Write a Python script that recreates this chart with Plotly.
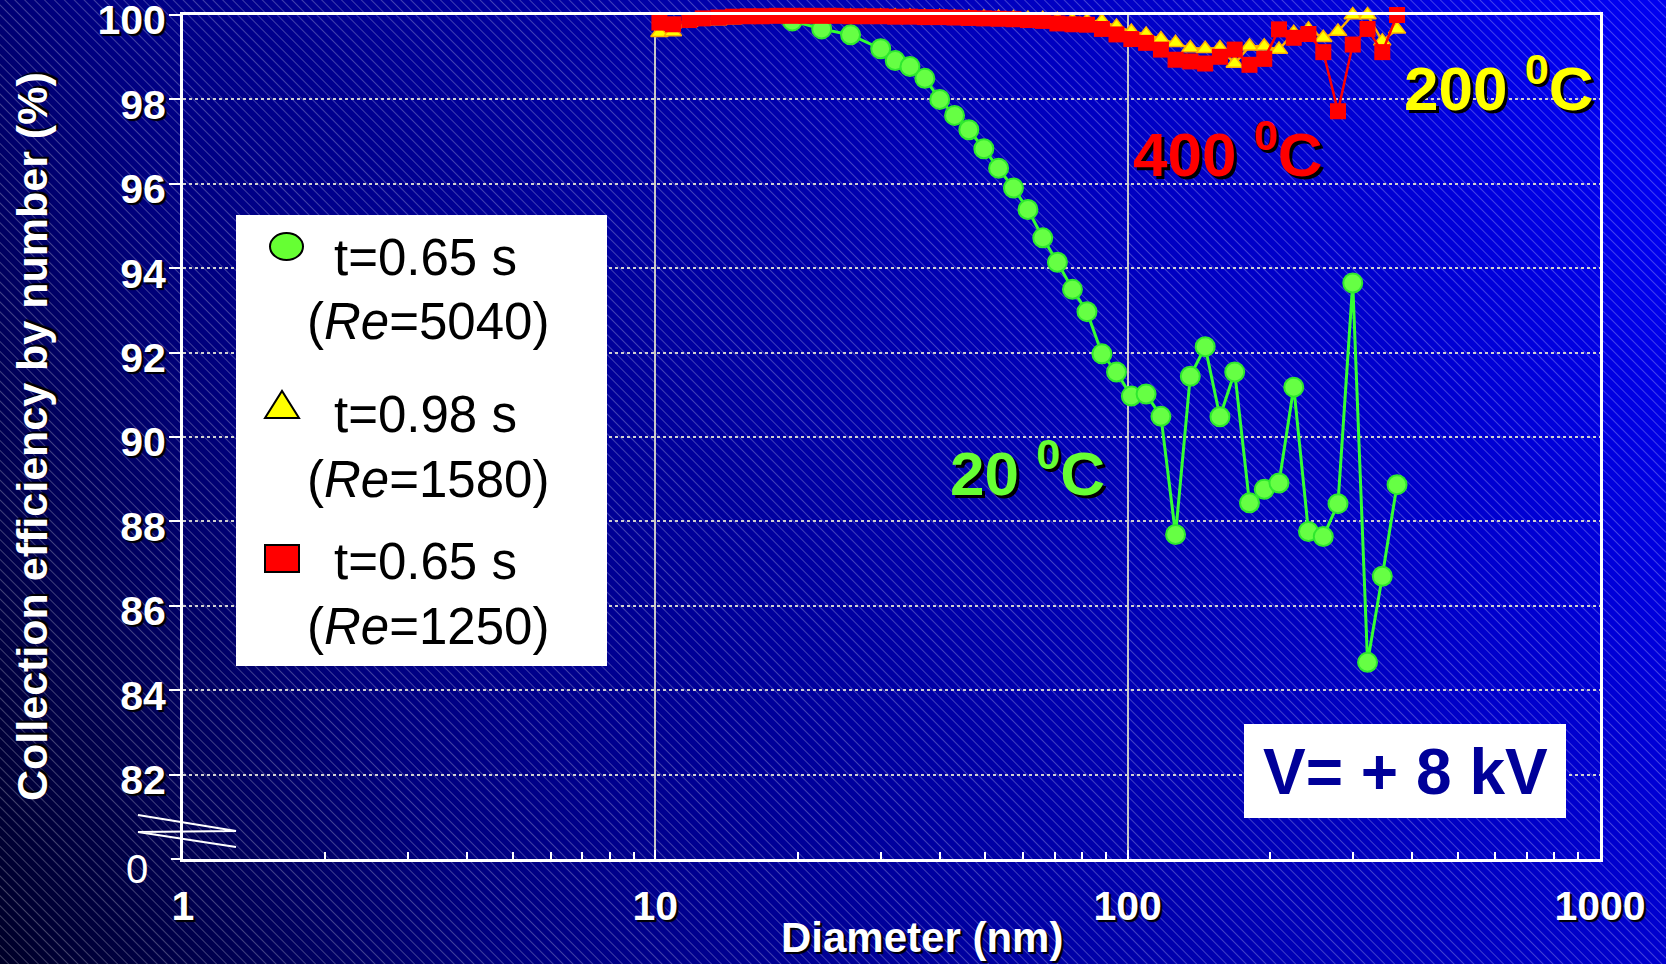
import base64
import plotly.graph_objects as go

# ---- data -------------------------------------------------------------
# SMPS channel midpoints (nm)
diam = [10.2, 10.9, 11.8, 12.6, 13.6, 14.6, 15.7, 16.8, 18.1, 19.5, 20.9, 22.5,
        24.1, 25.9, 27.9, 30.0, 32.2, 34.6, 37.2, 40.0, 43.0, 46.1, 49.6, 53.3,
        57.3, 61.5, 66.1, 71.0, 76.4, 82.0, 88.2, 94.7, 101.8, 109.4, 117.6,
        126.3, 135.7, 145.9, 156.8, 168.5, 181.1, 194.6, 209.1, 224.7, 241.4,
        259.5, 278.8, 299.6, 322.0, 346.0, 371.8]

# 400 C, t=0.65 s (Re=1250)
eff_400 = [99.82, 99.78, 99.88, 99.92, 99.94, 99.96, 99.97, 99.97, 99.98, 99.98,
           99.98, 99.98, 99.98, 99.97, 99.97, 99.97, 99.96, 99.96, 99.95, 99.95,
           99.94, 99.93, 99.92, 99.91, 99.90, 99.88, 99.86, 99.80, 99.78,
           99.77, 99.67, 99.54, 99.43, 99.34, 99.18, 98.94, 98.90, 98.85, 99.01,
           99.18, 98.82, 98.96, 99.66, 99.46, 99.55, 99.12, 97.72, 99.30, 99.67,
           99.12, 100.0]

# 200 C, t=0.98 s (Re=1580)
eff_200 = [99.58, 99.60, 99.82, 99.85, 99.86, 99.88, 99.90, 99.92, 99.93, 99.94,
           99.95, 99.96, 99.97, 99.97, 99.97, 99.97, 99.97, 99.97, 99.96, 99.96,
           99.95, 99.95, 99.94, 99.94, 99.93, 99.92, 99.91, 99.89, 99.87,
           99.86, 99.85, 99.73, 99.61, 99.54, 99.43, 99.34, 99.22, 99.20, 99.22,
           98.85, 99.26, 99.26, 99.18, 99.58, 99.66, 99.46, 99.61, 100.0, 100.0,
           99.38, 99.66]

# 20 C, t=0.65 s (Re=5040)
diam_20 = [19.5, 22.5, 25.9, 30.0, 32.2, 34.6, 37.2, 40.0, 43.0, 46.1, 49.6,
           53.3, 57.3, 61.5, 66.1, 71.0, 76.4, 82.0, 88.2, 94.7, 101.8, 109.4,
           117.6, 126.3, 135.7, 145.9, 156.8, 168.5, 181.1, 194.6, 209.1, 224.7,
           241.4, 259.5, 278.8, 299.6, 322.0, 346.0, 371.8]
eff_20 = [99.86, 99.67, 99.53, 99.20, 98.92, 98.78, 98.50, 98.00, 97.62, 97.28,
          96.83, 96.37, 95.90, 95.39, 94.72, 94.14, 93.50, 92.97, 91.97, 91.54,
          90.97, 91.02, 90.49, 87.69, 91.44, 92.14, 90.48, 91.54, 88.44, 88.76,
          88.91, 91.18, 87.76, 87.64, 88.42, 93.65, 84.66, 86.70, 88.87]

x_tickvals = [1, 10, 100, 1000]
x_ticktext = ["1", "10", "100", "1000"]
x_minor = [2, 3, 4, 5, 6, 7, 8, 9, 20, 30, 40, 50, 60, 70, 80, 90,
           200, 300, 400, 500, 600, 700, 800, 900]
y_tickvals = [82, 84, 86, 88, 90, 92, 94, 96, 98, 100]
y_ticktext = ["82", "84", "86", "88", "90", "92", "94", "96", "98", "100"]

legend_lines = [("t=0.65 s", "(<i>Re</i>=5040)"),
                ("t=0.98 s", "(<i>Re</i>=1580)"),
                ("t=0.65 s", "(<i>Re</i>=1250)")]

# ---- geometry helpers (page pixels -> paper units) ---------------------
W, H = 1666, 964
ML, MR, MT, MB = 183, 66, 15, 105
PW = W - ML - MR
PH = H - MT - MB


def px(x):
    return (x - ML) / PW


def py(y):
    return (H - MB - y) / PH


FONT = "Liberation Sans, Arial, sans-serif"
SHADOW = "2px 2px 1px #000000"

# ---- background: diagonal blue gradient with fine hatching -------------
bg_svg = f"""<svg xmlns='http://www.w3.org/2000/svg' width='{W}' height='{H}' viewBox='0 0 {W} {H}'>
<defs>
<linearGradient id='g' gradientUnits='userSpaceOnUse' x1='0' y1='{H}' x2='{W}' y2='222'>
<stop offset='0' stop-color='#000028'/>
<stop offset='0.25' stop-color='#000080'/>
<stop offset='0.85' stop-color='#0000d0'/>
<stop offset='1' stop-color='#0000f0'/>
</linearGradient>
<pattern id='h' width='7' height='7' patternUnits='userSpaceOnUse' patternTransform='rotate(-45)'>
<line x1='3.5' y1='0' x2='3.5' y2='7' stroke='#ffffff' stroke-opacity='0.25' stroke-width='1'/>
</pattern>
</defs>
<rect width='{W}' height='{H}' fill='url(#g)'/>
<rect width='{W}' height='{H}' fill='url(#h)'/>
</svg>"""
bg_src = "data:image/svg+xml;base64," + base64.b64encode(bg_svg.encode()).decode()

# ---- traces ------------------------------------------------------------
fig = go.Figure()
fig.add_trace(go.Scatter(
    x=diam_20, y=eff_20, mode="lines+markers", name="20 C",
    line=dict(color="#33ff33", width=3),
    marker=dict(symbol="circle", size=19, color="#66ff44",
                line=dict(color="#2ee82e", width=2)),
    cliponaxis=False, showlegend=False))
fig.add_trace(go.Scatter(
    x=diam, y=eff_200, mode="lines+markers", name="200 C",
    line=dict(color="#ffb000", width=2.5),
    marker=dict(symbol="triangle-up", size=15, color="#ffff00",
                line=dict(color="#ffb000", width=1.5)),
    cliponaxis=False, showlegend=False))
fig.add_trace(go.Scatter(
    x=diam, y=eff_400, mode="lines+markers", name="400 C",
    line=dict(color="#ff0000", width=2.5),
    marker=dict(symbol="square", size=16, color="#ff0000", line=dict(width=0)),
    cliponaxis=False, showlegend=False))

# ---- shapes ------------------------------------------------------------
shapes = []
# legend panel
shapes.append(dict(type="rect", xref="paper", yref="paper", layer="above",
                   x0=px(236), x1=px(607), y0=py(666), y1=py(215),
                   fillcolor="white", line=dict(width=0)))
# legend symbols
shapes.append(dict(type="circle", xref="paper", yref="paper", layer="above",
                   x0=px(270), x1=px(303), y0=py(260), y1=py(233),
                   fillcolor="#66ff33", line=dict(color="black", width=2)))
tri = f"M {px(265)},{py(418)} L {px(299)},{py(418)} L {px(282)},{py(391)} Z"
shapes.append(dict(type="path", path=tri, xref="paper", yref="paper", layer="above",
                   fillcolor="#ffff00", line=dict(color="black", width=2)))
shapes.append(dict(type="rect", xref="paper", yref="paper", layer="above",
                   x0=px(265), x1=px(299), y0=py(572), y1=py(545),
                   fillcolor="#ff0000", line=dict(color="black", width=2)))
# voltage box
shapes.append(dict(type="rect", xref="paper", yref="paper", layer="above",
                   x0=px(1244), x1=px(1566), y0=py(818), y1=py(724),
                   fillcolor="white", line=dict(width=0)))
# axis-break mark
brk = (f"M {px(138)},{py(815)} L {px(236)},{py(831)} "
       f"L {px(138)},{py(832)} L {px(236)},{py(847)}")
shapes.append(dict(type="path", path=brk, xref="paper", yref="paper", layer="above",
                   line=dict(color="white", width=2)))
# tick at the broken origin
shapes.append(dict(type="line", xref="paper", yref="paper", layer="above",
                   x0=px(171), x1=px(183), y0=0, y1=0,
                   line=dict(color="white", width=2)))

# ---- annotations -------------------------------------------------------
ann = []


def text(x, y, s, size, color, bold=True, shadow=SHADOW, angle=0):
    ann.append(dict(x=px(x), y=py(y), xref="paper", yref="paper", text=s,
                    showarrow=False, xanchor="center", yanchor="middle",
                    textangle=angle,
                    font=dict(family=FONT, size=size, color=color,
                              weight="bold" if bold else "normal",
                              shadow=shadow)))


# legend text
for (l1, l2), yc in zip(legend_lines, [(257, 322), (414, 480), (561, 626)]):
    text(425, yc[0], l1, 51, "black", bold=False, shadow="none")
    text(428, yc[1], l2, 51, "black", bold=False, shadow="none")

# series labels
text(1228, 150, "400 <sup>0</sup>C", 62, "#ff0000", shadow="3px 3px 0px #000000")
text(1499, 84, "200 <sup>0</sup>C", 62, "#ffff00", shadow="3px 3px 0px #000000")
text(1027, 469, "20 <sup>0</sup>C", 62, "#66ff33", shadow="3px 3px 0px #000000")

# voltage label
text(1405, 772, "V= + 8 kV", 64, "#000099", shadow="none")

# axis titles
text(32, 437, "Collection efficiency by number (%)", 43, "white", angle=-90)
text(922, 937, "Diameter (nm)", 42, "white")

# zero label at the broken axis origin
text(137, 869, "0", 40, "white", bold=False, shadow="none")

# ---- layout ------------------------------------------------------------
tickfont = dict(family=FONT, size=41, color="white", weight="bold", shadow=SHADOW)

fig.update_layout(
    width=W, height=H,
    margin=dict(l=ML, r=MR, t=MT, b=MB, pad=0, autoexpand=False),
    paper_bgcolor="#000080",
    plot_bgcolor="rgba(0,0,0,0)",
    showlegend=False,
    images=[dict(source=bg_src, xref="paper", yref="paper",
                 x=px(0), y=py(0), sizex=W / PW, sizey=H / PH,
                 xanchor="left", yanchor="top", sizing="stretch", layer="below")],
    shapes=shapes,
    annotations=ann,
    xaxis=dict(type="log", range=[0, 3], automargin=False,
               showline=True, linecolor="white", linewidth=3, mirror=True,
               tickvals=x_tickvals, ticktext=x_ticktext,
               ticks="inside", ticklen=9, tickwidth=2, tickcolor="white",
               tickfont=tickfont, ticklabelstandoff=9, ticklabeloverflow="allow",
               showgrid=True, gridcolor="#c8c8c8", gridwidth=2,
               minor=dict(tickvals=x_minor, ticks="inside", ticklen=7,
                          tickwidth=2, tickcolor="white", showgrid=False),
               zeroline=False),
    yaxis=dict(range=[80, 100], automargin=False,
               showline=True, linecolor="white", linewidth=3, mirror=True,
               tickvals=y_tickvals, ticktext=y_ticktext,
               ticks="outside", ticklen=11, tickwidth=2, tickcolor="white",
               tickfont=tickfont, ticklabelstandoff=-5, ticklabelshift=5,
               ticklabeloverflow="allow",
               showgrid=True, gridcolor="#d0d0d0", gridwidth=2, griddash="dot",
               zeroline=False),
)

fig.write_html("out.html")
